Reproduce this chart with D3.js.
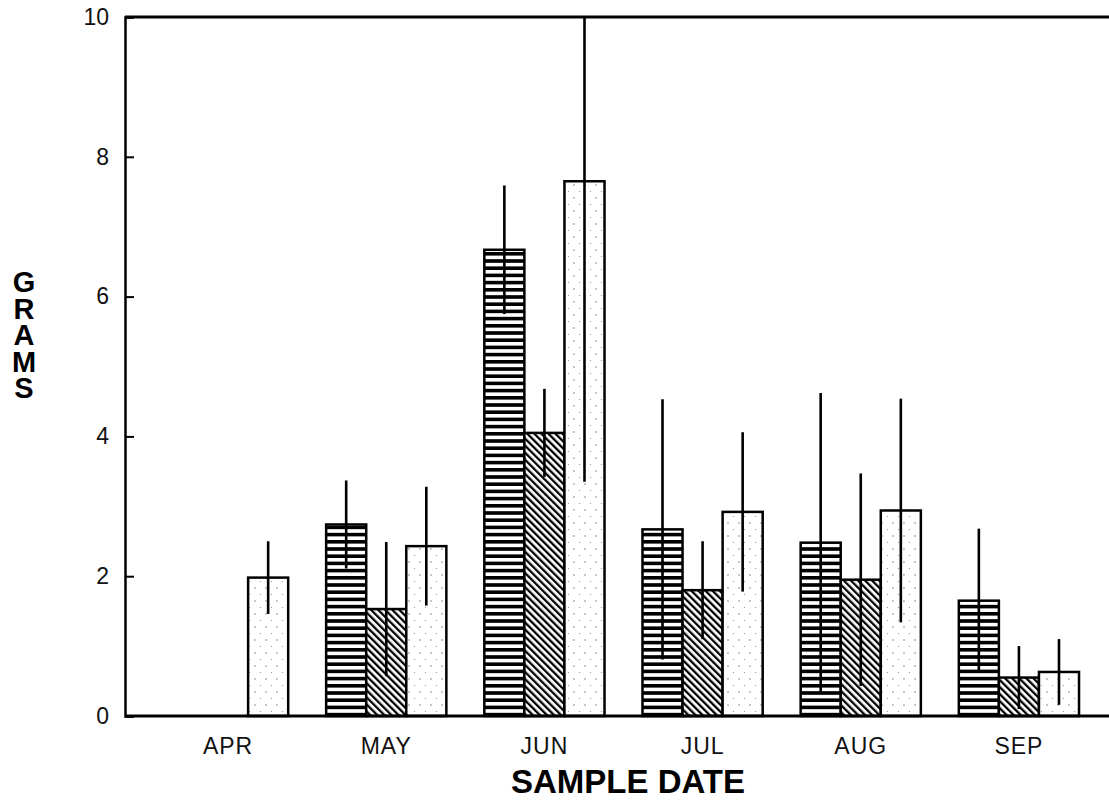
<!DOCTYPE html>
<html lang="en">
<head>
    <meta charset="UTF-8">
    <title>Grams by Sample Date</title>
    <script src="https://d3js.org/d3.v7.min.js"></script>
    <style>
        body {
            margin: 0;
            background: #fff;
            font-family: "Liberation Sans", Arial, sans-serif;
        }
        .tick-label {
            font-size: 23px;
            fill: #111;
        }
        .axis-title {
            font-weight: bold;
            fill: #000;
        }
    </style>
</head>
<body>
    <div id="chart"></div>

    <script>
        // data
        const months = ["APR", "MAY", "JUN", "JUL", "AUG", "SEP"];
        const seriesKeys = ["striped", "hatched", "stippled"];

        const stripedMean = [0, 2.74, 6.67, 2.67, 2.48, 1.65];
        const stripedSD   = [0, 0.63, 0.92, 1.86, 2.14, 1.03];
        const hatchedMean = [0, 1.53, 4.05, 1.80, 1.95, 0.55];
        const hatchedSD   = [0, 0.96, 0.63, 0.70, 1.52, 0.45];
        const stippledMean = [1.98, 2.43, 7.65, 2.92, 2.94, 0.63];
        const stippledSD   = [0.52, 0.85, 4.30, 1.14, 1.60, 0.47];

        const yTicks = [0, 2, 4, 6, 8, 10];

        const width = 1109;
        const height = 803;
        const axisX = 125;

        const svg = d3.select("#chart")
            .append("svg")
            .attr("width", width)
            .attr("height", height);

        // fill patterns
        const defs = svg.append("defs");

        const hs = defs.append("pattern")
            .attr("id", "hstripe")
            .attr("patternUnits", "userSpaceOnUse")
            .attr("width", 8)
            .attr("height", 7.2);
        hs.append("rect").attr("width", 8).attr("height", 7.2).attr("fill", "#fff");
        hs.append("rect").attr("y", 0).attr("width", 8).attr("height", 3.6).attr("fill", "#000");

        const dg = defs.append("pattern")
            .attr("id", "diag")
            .attr("patternUnits", "userSpaceOnUse")
            .attr("width", 5)
            .attr("height", 5)
            .attr("patternTransform", "rotate(-45)");
        dg.append("rect").attr("width", 5).attr("height", 5).attr("fill", "#fff");
        dg.append("rect").attr("x", 0).attr("width", 2.3).attr("height", 5).attr("fill", "#000");

        const dt = defs.append("pattern")
            .attr("id", "dots")
            .attr("patternUnits", "userSpaceOnUse")
            .attr("width", 11)
            .attr("height", 13);
        dt.append("rect").attr("width", 11).attr("height", 13).attr("fill", "#fff");
        dt.append("circle").attr("cx", 2).attr("cy", 3).attr("r", 0.7).attr("fill", "#666");
        dt.append("circle").attr("cx", 7.5).attr("cy", 9.5).attr("r", 0.6).attr("fill", "#888");

        const fills = { striped: "url(#hstripe)", hatched: "url(#diag)", stippled: "url(#dots)" };

        // scales
        const y = d3.scaleLinear()
            .domain([0, 10])
            .range([716, 17]);

        const x = d3.scaleBand()
            .domain(months)
            .range([149, 1098])
            .paddingInner(0.24)
            .paddingOuter(0.12);

        const xSub = d3.scaleBand()
            .domain(seriesKeys)
            .range([0, x.bandwidth()]);

        const table = months.flatMap((m, i) => [
            { month: m, key: "striped", mean: stripedMean[i], sd: stripedSD[i] },
            { month: m, key: "hatched", mean: hatchedMean[i], sd: hatchedSD[i] },
            { month: m, key: "stippled", mean: stippledMean[i], sd: stippledSD[i] }
        ]).filter(d => d.mean > 0);

        // bars
        svg.append("g")
            .selectAll("rect")
            .data(table)
            .enter()
            .append("rect")
            .attr("x", d => x(d.month) + xSub(d.key))
            .attr("y", d => y(d.mean))
            .attr("width", xSub.bandwidth())
            .attr("height", d => y(0) - y(d.mean))
            .attr("fill", d => fills[d.key])
            .attr("stroke", "#000")
            .attr("stroke-width", 2.5);

        // error bars (no caps), clipped at top of frame
        svg.append("g")
            .selectAll("line")
            .data(table)
            .enter()
            .append("line")
            .attr("x1", d => x(d.month) + xSub(d.key) + xSub.bandwidth() / 2)
            .attr("x2", d => x(d.month) + xSub(d.key) + xSub.bandwidth() / 2)
            .attr("y1", d => y(Math.max(0, d.mean - d.sd)))
            .attr("y2", d => y(Math.min(10, d.mean + d.sd)))
            .attr("stroke", "#000")
            .attr("stroke-width", 2.6);

        // frame: left axis, top and bottom lines
        svg.append("line")
            .attr("x1", axisX).attr("x2", width)
            .attr("y1", y(10)).attr("y2", y(10))
            .attr("stroke", "#000").attr("stroke-width", 3);
        svg.append("line")
            .attr("x1", axisX).attr("x2", width)
            .attr("y1", y(0)).attr("y2", y(0))
            .attr("stroke", "#000").attr("stroke-width", 3);

        const yAxis = svg.append("g")
            .attr("transform", `translate(${axisX},0)`)
            .call(d3.axisLeft(y).tickValues(yTicks).tickSize(-9).tickPadding(16).tickFormat(d3.format("d")));
        yAxis.select(".domain").attr("stroke-width", 2.5);
        yAxis.selectAll(".tick line").attr("stroke-width", 2);
        yAxis.selectAll(".tick text")
            .attr("class", "tick-label")
            .style("font-family", "'Liberation Sans', Arial, sans-serif")
            .style("font-size", "23px");

        const xAxis = svg.append("g")
            .attr("transform", `translate(0,${y(0)})`)
            .call(d3.axisBottom(x).tickSize(0).tickPadding(22));
        xAxis.select(".domain").remove();
        xAxis.selectAll(".tick text")
            .attr("class", "tick-label")
            .style("font-family", "'Liberation Sans', Arial, sans-serif")
            .style("font-size", "23px")
            .style("letter-spacing", "1px");

        // axis titles
        svg.append("text")
            .attr("class", "axis-title")
            .attr("x", 628)
            .attr("y", 793)
            .attr("text-anchor", "middle")
            .style("font-size", "33px")
            .text("SAMPLE DATE");

        // stacked vertical "GRAMS" as one text run
        svg.append("text")
            .attr("class", "axis-title")
            .attr("x", 24)
            .attr("y", 266)
            .style("font-size", "29px")
            .style("writing-mode", "vertical-rl")
            .style("text-orientation", "upright")
            .style("letter-spacing", "-5.5px")
            .text("GRAMS");
    </script>
</body>
</html>
